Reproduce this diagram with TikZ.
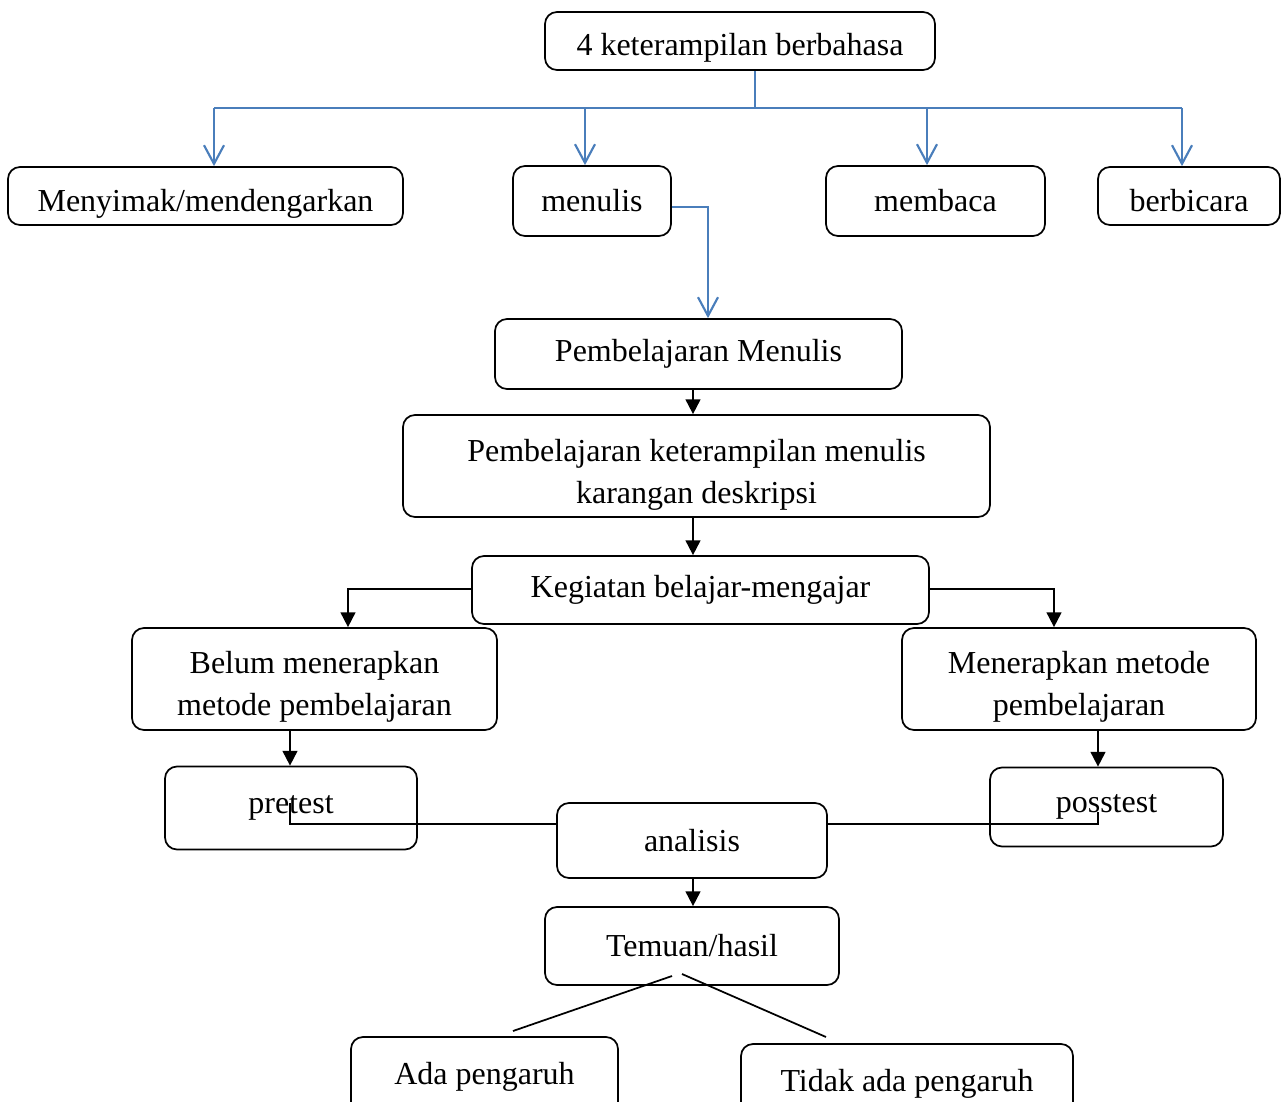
\documentclass[tikz,border=0pt]{standalone}
\usepackage{fontspec}
\setmainfont{Liberation Serif}
\usetikzlibrary{arrows.meta}
\definecolor{lineblue}{HTML}{4A7EBB}

\begin{document}
\begin{tikzpicture}[x=0.75pt,y=-0.75pt,
   box/.style={rectangle,draw,rounded corners=9pt,line width=1.3pt,
    align=center,inner sep=0pt,font=\fontsize{24}{31}\selectfont},
   lowtext/.style={execute at begin node={\rule{0pt}{#1}}},
   barrow/.style={draw=lineblue,line width=1.6pt,
    -{Straight Barb[length=14pt,width=15pt,line width=1.6pt]}},
   karrow/.style={line width=1.4pt,-{Triangle[length=11pt,width=11pt]}},
   kline/.style={line width=1.3pt}
    ]
    \useasboundingbox (0,0) rectangle (1284,1102);

    % Boxes:
    \node[box,lowtext=27pt,minimum width=292.5pt,minimum height=43.5pt] at (740,41) (top) {4 keterampilan berbahasa};
    \node[box,lowtext=28.4pt,minimum width=296.25pt,minimum height=43.5pt] at (205.5,196) (menyimak) {Menyimak/mendengarkan};
    \node[box,minimum width=118.5pt,minimum height=52.5pt] at (592,201) (menulis) {menulis};
    \node[box,minimum width=164.25pt,minimum height=52.5pt] at (935.5,201) (membaca) {membaca};
    \node[box,lowtext=24pt,minimum width=136.5pt,minimum height=43.5pt] at (1189,196) (berbicara) {berbicara};
    \node[box,minimum width=305.25pt,minimum height=52.5pt] at (698.5,354) (pmenulis) {Pembelajaran Menulis};
    \node[box,lowtext=61pt,minimum width=440.25pt,minimum height=76.5pt] at (696.5,466) (pketerampilan) {Pembelajaran keterampilan menulis\\karangan deskripsi};
    \node[box,minimum width=342.75pt,minimum height=51pt] at (700.5,590) (kegiatan) {Kegiatan belajar-mengajar};
    \node[box,lowtext=59.4pt,minimum width=273.75pt,minimum height=76.5pt] at (314.5,679) (belum) {Belum menerapkan\\metode pembelajaran};
    \node[box,lowtext=59.4pt,minimum width=265.5pt,minimum height=76.5pt] at (1079,679) (menerapkan) {Menerapkan metode\\pembelajaran};
    \node[box,minimum width=189pt,minimum height=62.25pt] at (291,808) (pretest) {pretest};
    \node[box,minimum width=174.75pt,minimum height=59.25pt] at (1106.5,807) (posstest) {posstest};
    \node[box,minimum width=202.5pt,minimum height=56.25pt] at (692,840.5) (analisis) {analisis};
    \node[box,minimum width=220.5pt,minimum height=58.5pt] at (692,946) (temuan) {Temuan/hasil};
    \node[box,minimum width=200.25pt,minimum height=60pt] at (484.5,1077) (ada) {Ada pengaruh};
    \node[box,minimum width=249pt,minimum height=60pt] at (907,1084) (tidak) {Tidak ada pengaruh};

    % branch points:
    \coordinate (split) at (755,108);
    \coordinate (b1) at (214,108);
    \coordinate (b2) at (585,108);
    \coordinate (b3) at (927,108);
    \coordinate (b4) at (1182,108);
    \coordinate (mt) at (708,207);
    \coordinate (kl) at (348,589);
    \coordinate (kr) at (1054,589);
    \coordinate (pa) at (290,824);
    \coordinate (qa) at (1098,824);
    \coordinate (t1) at (672,976);
    \coordinate (t2) at (682,974);
    \coordinate (a1) at (513,1031);
    \coordinate (d1) at (826,1037);

    % blue lines
    \draw[draw=lineblue,line width=1.6pt] (top.south -| split) -- (split);
    \draw[draw=lineblue,line width=1.6pt] (b1) -- (b4);
    \draw[barrow] (b1) -- (b1 |- menyimak.north);
    \draw[barrow] (b2) -- (b2 |- menulis.north);
    \draw[barrow] (b3) -- (b3 |- membaca.north);
    \draw[barrow] (b4) -- (b4 |- berbicara.north);
    \draw[barrow] (menulis.east |- mt) -- (mt) -- (mt |- pmenulis.north);

    % black arrows
    \draw[karrow] (pmenulis.south -| 693,0) -- (pketerampilan.north -| 693,0);
    \draw[karrow] (pketerampilan.south -| 693,0) -- (kegiatan.north -| 693,0);
    \draw[karrow] (kegiatan.west |- kl) -- (kl) -- (kl |- belum.north);
    \draw[karrow] (kegiatan.east |- kr) -- (kr) -- (kr |- menerapkan.north);
    \draw[karrow] (belum.south -| pa) -- (pretest.north -| pa);
    \draw[karrow] (menerapkan.south -| qa) -- (posstest.north -| qa);
    \draw[karrow] (analisis.south -| 693,0) -- (temuan.north -| 693,0);

    % lines to analisis
    \draw[kline] (analisis.west |- pa) -- (pa) -- ++(0,-21);
    \draw[kline] (analisis.east |- qa) -- (qa) -- ++(0,-12);

    % result lines
    \draw[kline] (t1) -- (a1);
    \draw[kline] (t2) -- (d1);

\end{tikzpicture}
\end{document}
